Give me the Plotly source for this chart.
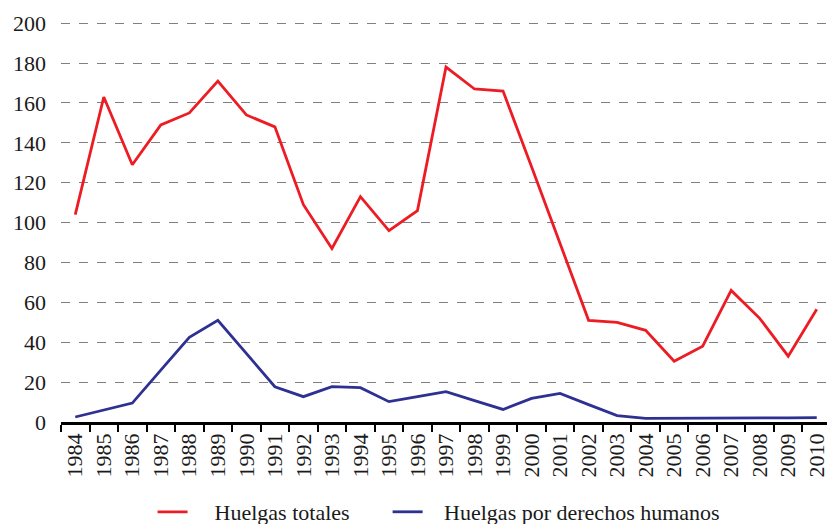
import plotly.graph_objects as go

years = [str(y) for y in range(1984, 2011)]
huelgas_totales = [104, 163, 129, 149, 155, 171, 154, 148, 109, 87, 113, 96, 106,
                   178, 167, 166, 128, 90, 51, 50, 46, 30.5, 38, 66, 52, 33, 56.5]
huelgas_ddhh = [2.5, 6, 9.5, 26, 42.5, 51, 34.5, 17.7, 12.7, 17.7, 17.2, 10.2, 12.7,
                15.2, 10.7, 6.3, 11.8, 14.3, 8.7, 3.2, 1.8, 1.8, 1.9, 2.0, 2.0, 2.1, 2.2]
y_ticks = [0, 20, 40, 60, 80, 100, 120, 140, 160, 180, 200]

FONT = "Liberation Serif, serif"
FS = 22
NB = "\u00a0"

fig = go.Figure()
fig.add_trace(go.Scatter(x=years, y=huelgas_totales, mode="lines",
                         name=NB * 4 + "Huelgas totales" + NB * 6,
                         line=dict(color="#ed1c24", width=2.8)))
fig.add_trace(go.Scatter(x=years, y=huelgas_ddhh, mode="lines",
                         name=NB * 3 + "Huelgas por derechos humanos",
                         line=dict(color="#2e3192", width=2.8)))

fig.update_layout(
    width=827, height=516,
    margin=dict(l=53, r=4, t=14, b=102, autoexpand=False),
    paper_bgcolor="white", plot_bgcolor="white",
    font=dict(family=FONT, size=FS, color="#1a1a1a"),
    showlegend=True,
    legend=dict(orientation="h", x=0.491, xanchor="center", y=-0.225, yanchor="middle",
                font=dict(family=FONT, size=FS, color="#1a1a1a"),
                itemwidth=30, tracegroupgap=0),
    xaxis=dict(type="category", range=[-0.5, 26.5], tickson="boundaries",
               ticks="outside", ticklen=7, tickwidth=1.5, tickcolor="black",
               showline=True, linecolor="black", linewidth=2.5,
               showgrid=False, tickangle=-90, automargin=False,
               tickfont=dict(family=FONT, size=FS, color="#1a1a1a")),
    yaxis=dict(range=[0, 200.6], tickvals=y_ticks, showline=False, zeroline=False,
               showgrid=True, gridcolor="#808080", gridwidth=1, griddash="dash",
               ticks="", ticklabelstandoff=14, automargin=False,
               tickfont=dict(family=FONT, size=FS, color="#1a1a1a")),
)

fig.write_html("out.html")
